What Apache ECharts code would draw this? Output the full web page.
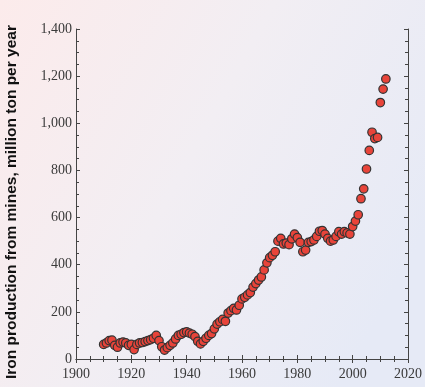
<!DOCTYPE html>
<html><head><meta charset="utf-8">
<script src="https://cdn.jsdelivr.net/npm/echarts@6/dist/echarts.min.js"></script>
<style>html,body{margin:0;padding:0;}#c{width:425px;height:387px;}</style>
</head><body><div id="c"></div>
<script>
const years = [1910,1911,1912,1913,1914,1915,1916,1917,1918,1919,
1920,1921,1922,1923,1924,1925,1926,1927,1928,1929,
1930,1931,1932,1933,1934,1935,1936,1937,1938,1939,
1940,1941,1942,1943,1944,1945,1946,1947,1948,1949,
1950,1951,1952,1953,1954,1955,1956,1957,1958,1959,
1960,1961,1962,1963,1964,1965,1966,1967,1968,1969,
1970,1971,1972,1973,1974,1975,1976,1977,1978,1979,
1980,1981,1982,1983,1984,1985,1986,1987,1988,1989,
1990,1991,1992,1993,1994,1995,1996,1997,1998,1999,
2000,2001,2002,2003,2004,2005,2006,2007,2008,2009,
2010,2011,2012];
const production = [62,68,78,80,58,50,68,72,68,58,
62,40,62,68,70,74,78,82,88,100,
78,52,38,48,58,68,85,100,105,112,
115,110,105,95,75,64,75,88,100,108,
128,148,158,168,160,195,205,215,208,228,
255,262,272,282,305,320,335,348,378,408,
430,440,455,500,512,488,492,485,510,530,
515,495,455,462,495,498,505,520,542,545,
530,512,500,505,520,540,530,540,535,530,
562,585,612,680,722,806,885,962,935,940,
1088,1145,1188];
const xTicks = [1900,1920,1940,1960,1980,2000,2020];
const yTicks = [0,200,400,600,800,1000,1200,1400];
const yTitle = 'Iron production from mines, million ton per year';

const chart = echarts.init(document.getElementById('c'));
const labelFont = {fontFamily:'Liberation Serif', fontSize:14, color:'#3a3a3a'};
const lineStyle = {color:'#444', width:1};
const fmt = v => v.toLocaleString('en-US');
chart.setOption({
  animation:false,
  backgroundColor:{type:'linear',x:0,y:0,x2:1,y2:0.6,colorStops:[
    {offset:0,color:'#fcebeb'},{offset:0.5,color:'#f2eef3'},{offset:1,color:'#e6eaf6'}]},
  grid:{left:76,right:17,top:29,bottom:28},
  graphic:[{type:'text',x:12,y:202,rotation:Math.PI/2,
    style:{text:yTitle,fontFamily:'Liberation Sans',fontWeight:'bold',fontSize:15.5,
      fill:'#111',align:'center',verticalAlign:'middle'}}],
  xAxis:[{type:'value',min:xTicks[0],max:xTicks[xTicks.length-1],interval:20,
    axisLine:{show:true,lineStyle},axisTick:{inside:true,length:4,lineStyle},
    minorTick:{show:true,splitNumber:4,length:3,lineStyle},
    splitLine:{show:false},
    axisLabel:Object.assign({margin:8,formatter:v=>String(v)},labelFont)},
   {type:'value',position:'top',min:xTicks[0],max:xTicks[xTicks.length-1],interval:20,
    axisLine:{show:true,lineStyle},axisTick:{inside:true,length:4,lineStyle},
    minorTick:{show:true,splitNumber:4,length:3,lineStyle},
    splitLine:{show:false},axisLabel:{show:false}}],
  yAxis:[{type:'value',min:yTicks[0],max:yTicks[yTicks.length-1],interval:200,
    axisLine:{show:true,lineStyle},axisTick:{inside:true,length:4,lineStyle},
    minorTick:{show:true,splitNumber:4,length:3,lineStyle},
    splitLine:{show:false},
    axisLabel:Object.assign({margin:4,formatter:fmt},labelFont)},
   {type:'value',position:'right',min:yTicks[0],max:yTicks[yTicks.length-1],interval:200,
    axisLine:{show:true,lineStyle},axisTick:{inside:true,length:4,lineStyle},
    minorTick:{show:true,splitNumber:4,length:3,lineStyle},
    splitLine:{show:false},axisLabel:{show:false}}],
  series:[{type:'scatter',xAxisIndex:0,yAxisIndex:0,
    data:years.map((y,i)=>[y,production[i]]),
    symbol:'circle',symbolSize:8.5,
    itemStyle:{color:'#e8443a',borderColor:'#333',borderWidth:1.2,opacity:1}}]
});
</script></body></html>
